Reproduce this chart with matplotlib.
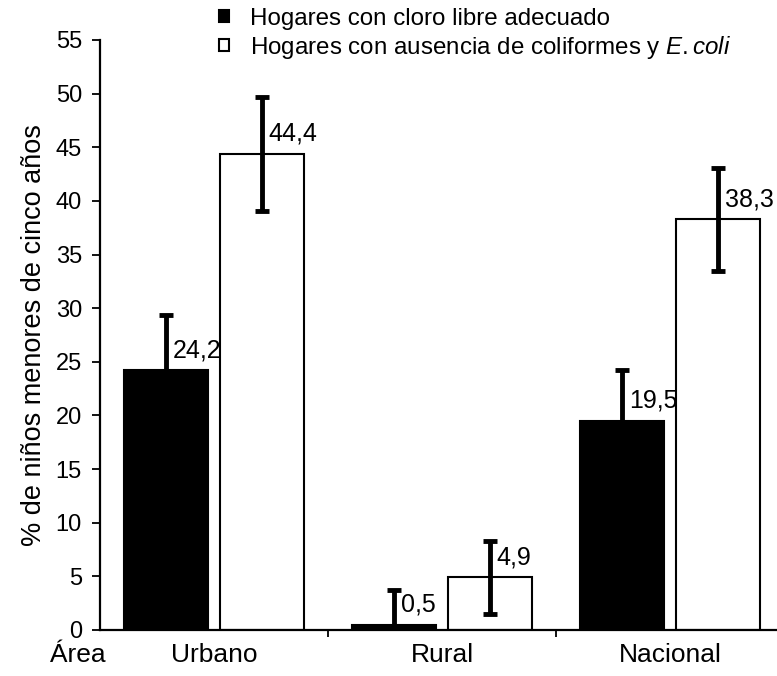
import numpy as np
import matplotlib
matplotlib.use("Agg")
import matplotlib.pyplot as plt

plt.rcParams["font.family"] = ["Liberation Sans", "DejaVu Sans"]
plt.rcParams["mathtext.fontset"] = "custom"
plt.rcParams["mathtext.rm"] = "Liberation Sans"
plt.rcParams["mathtext.it"] = "Liberation Sans:italic"

# data
areas = ["Urbano", "Rural", "Nacional"]
cloro = [24.2, 0.5, 19.5]
cloro_err = [5.2, 3.2, 4.7]
coli = [44.4, 4.9, 38.3]
coli_err = [5.3, 3.4, 4.8]
cloro_labels = ["24,2", "0,5", "19,5"]
coli_labels = ["44,4", "4,9", "38,3"]
series_names = ["Hogares con cloro libre adecuado",
                r"Hogares con ausencia de coliformes y $\mathit{E.coli}$"]

x = np.arange(len(areas))
off = 0.21
w = 0.37

fig = plt.figure(figsize=(7.77, 6.76), dpi=100)
ax = fig.add_axes([100 / 777, 1 - 630 / 676, 1 - 100 / 777, (630 - 40) / 676])

ax.bar(x - off, cloro, w, color="black", edgecolor="black", linewidth=1.5,
       label=series_names[0])
ax.bar(x + off, coli, w, color="white", edgecolor="black", linewidth=1.5,
       label=series_names[1])

ax.errorbar(x - off, cloro, yerr=cloro_err, fmt="none", ecolor="black",
            elinewidth=3.5, capsize=5, capthick=3.5)
ax.errorbar(x + off, coli, yerr=coli_err, fmt="none", ecolor="black",
            elinewidth=3.5, capsize=5, capthick=3.5)

for xs, vals, labs in [(x - off, cloro, cloro_labels), (x + off, coli, coli_labels)]:
    for xi, v, t in zip(xs, vals, labs):
        ax.annotate(t, xy=(xi, v + 1.2), xytext=(5, 0), textcoords="offset points",
                    ha="left", va="baseline", fontsize=18)

ax.set_xlim(-0.5, -0.5 + 677 / 228)
ax.set_ylim(0, 55)
ax.set_yticks(np.arange(0, 56, 5))
ax.tick_params(axis="y", direction="out", length=6, width=1.3, labelsize=17, pad=7)
ax.set_xticks([0.5, 1.5])
ax.set_xticklabels(["", ""])
ax.tick_params(axis="x", which="major", direction="out", length=5, width=1.3)
ax.set_xticks(x, areas, minor=True)
ax.tick_params(axis="x", which="minor", length=0, pad=9, labelsize=19)

for s in ["top", "right"]:
    ax.spines[s].set_visible(False)
for s in ["left", "bottom"]:
    ax.spines[s].set_linewidth(1.6)

ax.set_ylabel("% de niños menores de cinco años", fontsize=19.5, labelpad=6)
fig.text(78 / 777, 1 - 655 / 676, "Área", ha="center", va="center", fontsize=19)

ax.legend(loc="upper left", bbox_to_anchor=(219 / 777, 1 - 8 / 676),
          bbox_transform=fig.transFigure, frameon=False, fontsize=17.4,
          handlelength=0.4, handleheight=0.4, handletextpad=0.9,
          labelspacing=0.15, borderpad=0, borderaxespad=0)

plt.savefig("out.png", dpi=100)
